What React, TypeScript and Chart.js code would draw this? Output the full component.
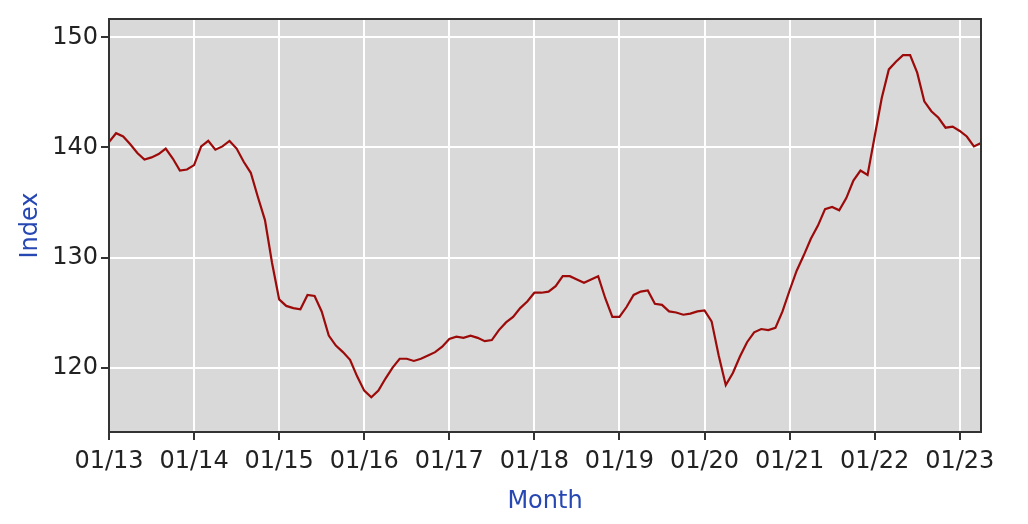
import { useEffect, useRef } from 'react';
import { Chart, registerables } from 'chart.js';

Chart.register(...registerables);

const START_YEAR = 2013;

const values: number[] = [
  140.5, 141.3, 141.0, 140.3, 139.5, 138.9, 139.1, 139.4, 139.9, 139.0, 137.9, 138.0,
  138.4, 140.1, 140.6, 139.8, 140.1, 140.6, 139.9, 138.7, 137.7, 135.5, 133.4, 129.5,
  126.2, 125.6, 125.4, 125.3, 126.6, 126.5, 125.1, 122.9, 122.0, 121.4, 120.7, 119.2,
  117.9, 117.3, 117.9, 119.0, 120.0, 120.8, 120.8, 120.6, 120.8, 121.1, 121.4, 121.9,
  122.6, 122.8, 122.7, 122.9, 122.7, 122.4, 122.5, 123.4, 124.1, 124.6, 125.4, 126.0,
  126.8, 126.8, 126.9, 127.4, 128.3, 128.3, 128.0, 127.7, 128.0, 128.3, 126.3, 124.6,
  124.6, 125.5, 126.6, 126.9, 127.0, 125.8, 125.7, 125.1, 125.0, 124.8, 124.9, 125.1,
  125.2, 124.2, 121.1, 118.4, 119.5, 121.0, 122.3, 123.2, 123.5, 123.4, 123.6, 125.1,
  127.0, 128.8, 130.2, 131.7, 132.9, 134.4, 134.6, 134.3, 135.4, 137.0, 137.9, 137.5,
  141.0, 144.5, 147.1, 147.8, 148.4, 148.4, 146.8, 144.2, 143.3, 142.7, 141.8, 141.9,
  141.5, 141.0, 140.1, 140.4,
];

const months: string[] = values.map((_, i) => {
  const m = (i % 12) + 1;
  const y = (START_YEAR + Math.floor(i / 12)) % 100;
  return `${String(m).padStart(2, '0')}/${String(y).padStart(2, '0')}`;
});

const xTickLabels = ['01/13', '01/14', '01/15', '01/16', '01/17', '01/18', '01/19', '01/20', '01/21', '01/22', '01/23'];
const yTicks = [120, 130, 140, 150];

const FONT = "'DejaVu Sans', Verdana, sans-serif";

const plotFrame = {
  id: 'plotFrame',
  beforeDraw(chart: any) {
    const { ctx, chartArea } = chart;
    ctx.save();
    ctx.fillStyle = '#d9d9d9';
    ctx.fillRect(chartArea.left, chartArea.top, chartArea.right - chartArea.left, chartArea.bottom - chartArea.top);
    ctx.restore();
  },
  afterDraw(chart: any) {
    const { ctx, chartArea } = chart;
    ctx.save();
    ctx.strokeStyle = '#333333';
    ctx.lineWidth = 2;
    ctx.strokeRect(chartArea.left, chartArea.top, chartArea.right - chartArea.left, chartArea.bottom - chartArea.top);
    ctx.restore();
  },
};

export default function App() {
  const ref = useRef<HTMLCanvasElement | null>(null);

  useEffect(() => {
    document.body.style.margin = '0';
    const canvas = ref.current;
    if (!canvas) return;
    const chart = new Chart(canvas, {
      type: 'line',
      data: {
        datasets: [
          {
            label: 'Index',
            data: values.map((v, i) => ({ x: i, y: v })),
            borderColor: '#9c0a0a',
            borderWidth: 2.2,
            pointRadius: 0,
            tension: 0,
            fill: false,
          },
        ],
      },
      options: {
        animation: false,
        responsive: false,
        layout: { padding: { left: 0, right: 47, top: 19, bottom: 0 } },
        plugins: { legend: { display: false }, tooltip: { enabled: false } },
        scales: {
          x: {
            type: 'linear',
            min: 0,
            max: values.length - 1,
            afterFit: (s: any) => { s.height = 92; },
            afterBuildTicks: (s: any) => {
              s.ticks = xTickLabels.map((l) => ({ value: months.indexOf(l) }));
            },
            ticks: {
              callback: (v: any) => months[v as number],
              color: '#222222',
              font: { family: FONT, size: 24 },
              padding: 7,
              maxRotation: 0,
              autoSkip: false,
            },
            grid: { color: '#ffffff', lineWidth: 2, tickColor: '#333333', tickLength: 8, tickWidth: 2 },
            border: { display: false },
            title: {
              display: true,
              text: 'Month',
              color: '#2748b3',
              font: { family: FONT, size: 24 },
              padding: { top: 0, bottom: 8 },
            },
          },
          y: {
            type: 'linear',
            min: 114.14,
            max: 151.68,
            afterFit: (s: any) => { s.width = 109; },
            afterBuildTicks: (s: any) => {
              s.ticks = yTicks.map((v) => ({ value: v }));
            },
            ticks: {
              color: '#222222',
              font: { family: FONT, size: 24 },
              padding: 3,
            },
            grid: { color: '#ffffff', lineWidth: 2, tickColor: '#333333', tickLength: 8, tickWidth: 2 },
            border: { display: false },
            title: {
              display: true,
              text: 'Index',
              color: '#2748b3',
              font: { family: FONT, size: 24 },
              padding: { top: 16, bottom: 0 },
            },
          },
        },
      },
      plugins: [plotFrame],
    });
    return () => chart.destroy();
  }, []);

  return <canvas ref={ref} width={1028} height={524} style={{ display: 'block' }} />;
}
